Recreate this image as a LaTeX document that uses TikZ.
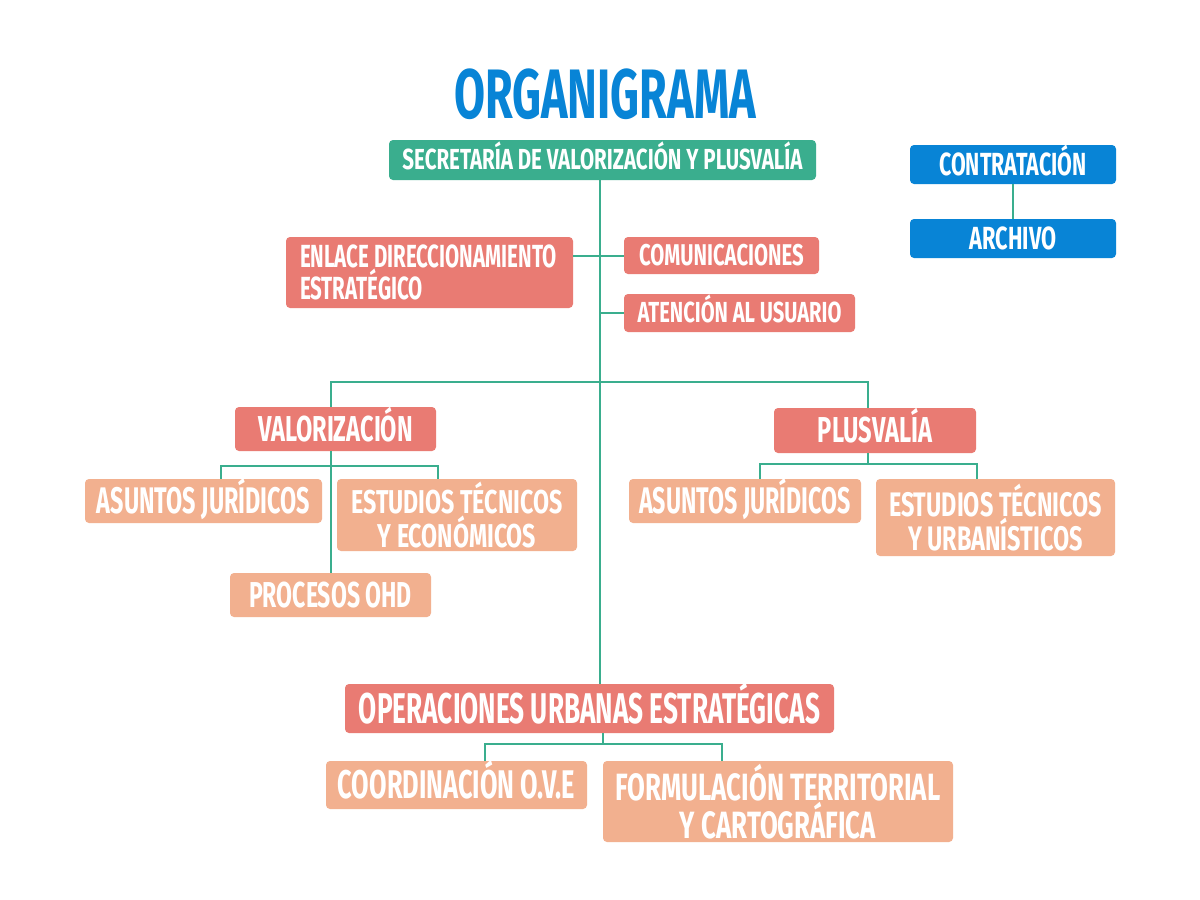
\documentclass[tikz,border=0pt]{standalone}
\usepackage{fontspec}
\newfontfamily\cond{Fira Sans}
\definecolor{cgreen}{HTML}{3AAE8E}
\definecolor{csalmon}{HTML}{E97B73}
\definecolor{clight}{HTML}{F2B08F}
\definecolor{cblue}{HTML}{0884D6}
\newcommand{\fs}[1]{\fontsize{#1}{#1}\selectfont}
\tikzset{
  box/.style={rounded corners=4pt, inner sep=0pt, text=white, align=center, anchor=center},
  txt/.code 2 args={\pgfmathsetmacro\capht{0.689*#1}%
    \edef\tmpa{\noexpand\tikzset{text height=\capht pt}}\tmpa
    \tikzset{text depth=0pt, font=\cond\bfseries\fs{#1}\addfontfeatures{FakeStretch=#2}}},
  mtxt/.code n args={3}{\tikzset{font=\cond\bfseries\fontsize{#1}{#2}\selectfont\addfontfeatures{FakeStretch=#3}}},
  gbox/.style={box, fill=cgreen},
  sbox/.style={box, fill=csalmon},
  lbox/.style={box, fill=clight},
  bbox/.style={box, fill=cblue},
  conn/.style={draw=cgreen, line width=2pt},
}
\begin{document}
\begin{tikzpicture}[x=1pt,y=-1pt]
\useasboundingbox[fill=white] (0,0) rectangle (1200,900);
% title
\node[txt={70}{0.642}, text=cblue, inner sep=0pt] (title) at (605,94) {ORGANIGRAMA};
% boxes
\node[gbox, txt={29}{0.708}, minimum width=427, minimum height=40] (sec) at (602.5,160) {SECRETARÍA DE VALORIZACIÓN Y PLUSVALÍA};
\node[sbox, mtxt={32}{30}{0.64}, minimum width=287, minimum height=71, inner xsep=14pt, text width=259pt, align=flush left] (enl) at (429.5,272.5) {ENLACE DIRECCIONAMIENTO\\ESTRATÉGICO};
\node[sbox, txt={30}{0.678}, minimum width=195, minimum height=37] (com) at (721.5,255.5) {COMUNICACIONES};
\node[sbox, txt={29}{0.695}, minimum width=231, minimum height=38] (ate) at (739.5,313) {ATENCIÓN AL USUARIO};
\node[sbox, txt={36}{0.655}, minimum width=201, minimum height=44] (val) at (335.5,429) {VALORIZACIÓN};
\node[sbox, txt={36}{0.657}, minimum width=202, minimum height=45] (plu) at (875,430.5) {PLUSVALÍA};
\node[lbox, txt={37}{0.632}, minimum width=237, minimum height=44] (aj1) at (203.5,501) {ASUNTOS JURÍDICOS};
\node[lbox, mtxt={33}{32}{0.703}, minimum width=240, minimum height=72] (et1) at (457,515) {ESTUDIOS TÉCNICOS\\Y ECONÓMICOS};
\node[lbox, txt={36}{0.64}, minimum width=201, minimum height=44] (pro) at (330.5,595) {PROCESOS OHD};
\node[lbox, txt={37}{0.627}, minimum width=232, minimum height=44] (aj2) at (745,501) {ASUNTOS JURÍDICOS};
\node[lbox, mtxt={34}{33}{0.688}, minimum width=239, minimum height=77] (et2) at (995.5,517.5) {ESTUDIOS TÉCNICOS\\Y URBANÍSTICOS};
\node[sbox, txt={43}{0.61}, minimum width=489, minimum height=49] (ope) at (589.5,708.5) {OPERACIONES URBANAS ESTRATÉGICAS};
\node[lbox, txt={40}{0.635}, minimum width=261, minimum height=48] (coo) at (456.5,785) {COORDINACIÓN O.V.E};
\node[lbox, mtxt={38}{33}{0.68}, minimum width=350, minimum height=81] (frm) at (778,801.5) {FORMULACIÓN TERRITORIAL\\Y CARTOGRÁFICA};
\node[bbox, txt={32}{0.668}, minimum width=206, minimum height=39] (con) at (1013,164.5) {CONTRATACIÓN};
\node[bbox, txt={32}{0.68}, minimum width=206, minimum height=39] (arc) at (1013,238.5) {ARCHIVO};
% connectors
\draw[conn] ([xshift=-2.5pt]sec.south) -- ([xshift=-2.5pt]sec.south |- ope.north);
\draw[conn] (enl.east |- com.west) -- (com.west);
\draw[conn] ([xshift=-2.5pt]sec.south |- ate.west) -- (ate.west);
\coordinate (hub) at (600,382);
\draw[conn] ([xshift=-4.5pt]val.north) |- (hub) -| ([xshift=-7pt]plu.north);
\coordinate (vj) at (331,466);
\draw[conn] (val.south -| pro.north) -- (pro.north);
\draw[conn] ([xshift=17.5pt]aj1.north) |- (vj) -| ([xshift=-19pt]et1.north);
\coordinate (pj) at (868,464);
\draw[conn] ([xshift=-7pt]plu.south) -- (pj);
\draw[conn] ([xshift=15pt]aj2.north) |- (pj) -| ([xshift=-19pt]et2.north);
\coordinate (oj) at (602.5,744);
\draw[conn] (ope.south -| oj) -- (oj);
\draw[conn] ([xshift=28.5pt]coo.north) |- (oj) -| ([xshift=-56pt]frm.north);
\draw[conn] (con.south) -- (arc.north);
\end{tikzpicture}
\end{document}
